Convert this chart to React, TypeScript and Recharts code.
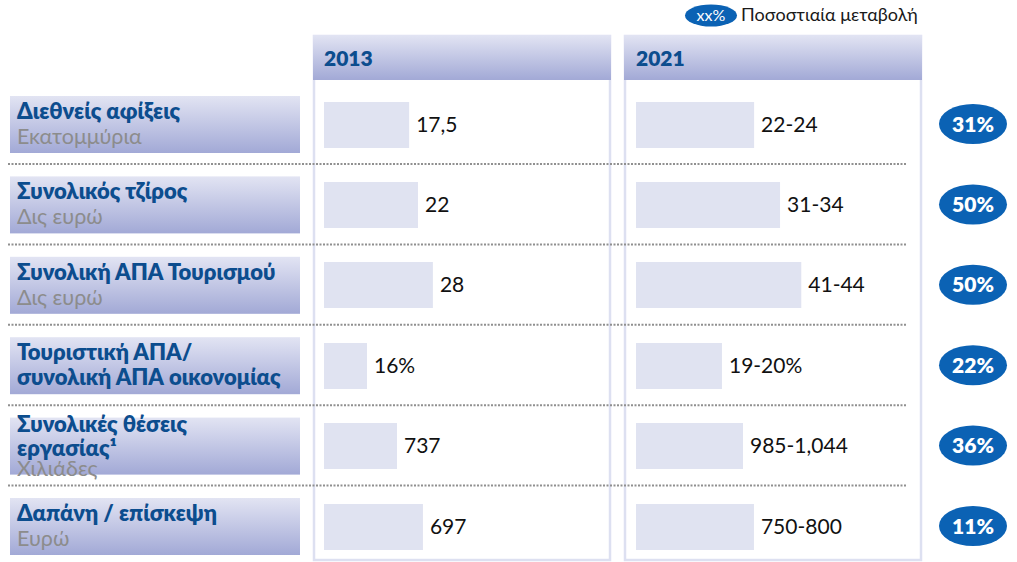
import { BarChart, Bar, XAxis, YAxis, LabelList } from 'recharts';

const rowTitles = [
  ['Διεθνείς αφίξεις'],
  ['Συνολικός τζίρος'],
  ['Συνολική ΑΠΑ Τουρισμού'],
  ['Τουριστική ΑΠΑ/', 'συνολική ΑΠΑ οικονομίας'],
  ['Συνολικές θέσεις', 'εργασίας¹'],
  ['Δαπάνη / επίσκεψη'],
];
const rowUnits = ['Εκατομμύρια', 'Δις ευρώ', 'Δις ευρώ', '', 'Χιλιάδες', 'Ευρώ'];
const years = ['2013', '2021'];
const values2013 = [17.5, 22, 28, 16, 737, 697];
const labels2013 = ['17,5', '22', '28', '16%', '737', '697'];
// 2021 ranges, bar drawn at the midpoint
const values2021 = [23, 32.5, 42.5, 19.5, 1014.5, 775];
const labels2021 = ['22-24', '31-34', '41-44', '19-20%', '985-1,044', '750-800'];
const changes = ['31%', '50%', '50%', '22%', '36%', '11%'];
// each row has its own value axis in the original
const rowDomains: [number, number][] = [
  [3.3, 50],
  [2.3, 61],
  [0, 72],
  [12.5, 35.3],
  [141, 2427],
  [291, 1440],
];

const FONT = "Lato, 'Open Sans', sans-serif";
const BLUE = '#0c4d8e';
const PILL = '#0b62b4';
const rowCenter = (i: number) => 124 + i * 80.4;
const panelX = [313, 624];
const axisX = [324, 636];

function CellChart({ value, label, domain }: { value: number; label: string; domain: [number, number] }) {
  const data = [{ name: 'v', value, label }];
  return (
    <BarChart width={285} height={65} data={data} layout="vertical" margin={{ top: 0, right: 4, bottom: 0, left: 1 }}>
      <XAxis type="number" domain={domain} hide allowDataOverflow />
      <YAxis type="category" dataKey="name" width={0} tick={false} tickLine={false} axisLine={{ stroke: '#7f7f7f', strokeWidth: 1 }} />
      <Bar dataKey="value" fill="#e0e3f1" barSize={46} isAnimationActive={false}>
        <LabelList dataKey="label" position="right" offset={7} fill="#111" fontSize={21} fontFamily={FONT} />
      </Bar>
    </BarChart>
  );
}

export default function App() {
  const yearValues = [values2013, values2021];
  const yearLabels = [labels2013, labels2021];
  return (
    <div style={{ position: 'absolute', left: 0, top: 0, width: 1017, height: 562, background: '#fff', overflow: 'hidden', fontFamily: FONT }}>
      <svg width={1017} height={562} style={{ position: 'absolute', left: 0, top: 0 }}>
        <defs>
          <linearGradient id="boxGrad" x1="0" y1="0" x2="0" y2="1">
            <stop offset="0%" stopColor="#e2e4f3" />
            <stop offset="100%" stopColor="#a2a9d6" />
          </linearGradient>
        </defs>

        {/* legend */}
        <ellipse cx={711} cy={15.5} rx={26} ry={11} fill={PILL} />
        <text x={711} y={21} textAnchor="middle" fill="#fff" fontSize={16}>xx%</text>
        <text x={741} y={21} fill="#1a1a1a" fontSize={18}>Ποσοστιαία μεταβολή</text>

        {/* year panels */}
        {years.map((y, k) => (
          <g key={y}>
            <rect x={panelX[k] + 1} y={36} width={296} height={524} fill="#fff" stroke="#dde0f1" strokeWidth={2.5} />
            <rect x={panelX[k]} y={35} width={298} height={45} fill="url(#boxGrad)" />
            <text x={axisX[k]} y={66} fill={BLUE} fontSize={21} fontWeight={800}>{y}</text>
          </g>
        ))}

        {/* row labels */}
        {rowTitles.map((lines, i) => {
          const top = rowCenter(i) - 28;
          const all = rowUnits[i] ? [...lines, rowUnits[i]] : lines;
          const base = all.length === 3 ? [14, 38, 58] : [23, 48];
          return (
            <g key={i}>
              <rect x={10} y={top} width={290} height={57} fill="url(#boxGrad)" />
              {all.map((t, j) => (
                <text key={j} x={17} y={top + base[j]}
                  fontSize={j < lines.length ? 22 : 21.5}
                  fontWeight={j < lines.length ? 800 : 400}
                  fill={j < lines.length ? BLUE : '#8c8c8c'}>{t}</text>
              ))}
            </g>
          );
        })}

        {/* separators */}
        {rowTitles.slice(1).map((_, i) => (
          <line key={i} x1={8} x2={907} y1={rowCenter(i) + 40} y2={rowCenter(i) + 40}
            stroke="#909090" strokeWidth={2} strokeDasharray="2 1.5" />
        ))}

        {/* change pills */}
        {changes.map((c, i) => (
          <g key={c + i}>
            <ellipse cx={973} cy={rowCenter(i)} rx={34} ry={20} fill={PILL} />
            <text x={973} y={rowCenter(i) + 7.5} textAnchor="middle" fill="#fff" fontSize={21} fontWeight={800}>{c}</text>
          </g>
        ))}
      </svg>

      {years.map((y, k) =>
        yearValues[k].map((v, i) => (
          <div key={y + i} style={{ position: 'absolute', left: axisX[k] - 1, top: rowCenter(i) - 32.5 }}>
            <CellChart value={v} label={yearLabels[k][i]} domain={rowDomains[i]} />
          </div>
        ))
      )}
    </div>
  );
}
